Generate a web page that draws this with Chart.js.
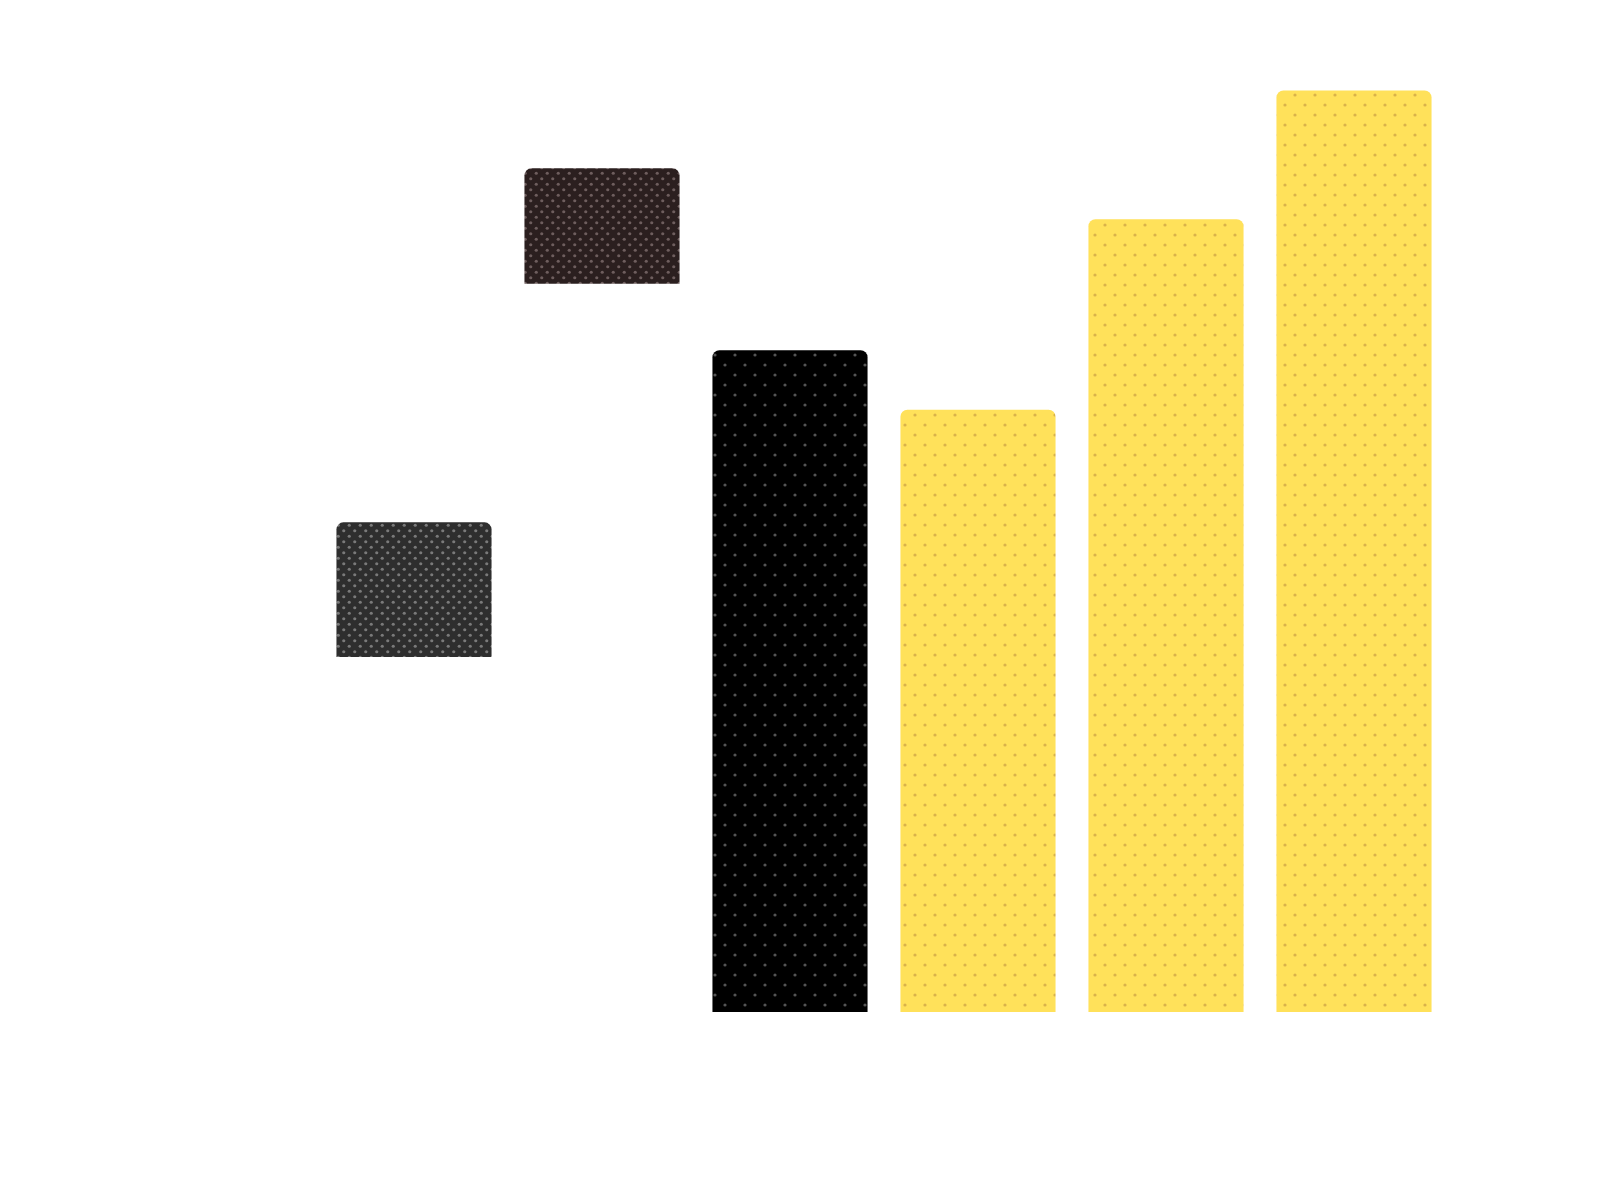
<!DOCTYPE html>
<html><head><meta charset="utf-8">
<script src="https://cdn.jsdelivr.net/npm/chart.js@4"></script>
<style>html,body{margin:0;padding:0;background:#fff}#w{width:1600px;height:1201px}</style>
</head><body><div id="w"><canvas id="c"></canvas></div>
<script>
const categories = ['A','B','C','D','E','F','G'];
const lows  = [null, 36.9, 75.7, 0, 0, 0, 0];
const highs = [null, 50.9, 87.7, 68.8, 62.6, 82.4, 95.8];
const baseColors = ['#000000','#2e2e2e','#2b1f1f','#000000','#FFE15A','#FFE15A','#FFE15A'];
const dotColors  = ['#666','#7a7a7a','#6e5e5e','#555','#d9b24a','#d9b24a','#d9b24a'];
const dotGap     = [20, 11, 11, 20, 20, 20, 20];

function pattern(bg, dot, gap){
  const c=document.createElement('canvas'); c.width=gap; c.height=gap;
  const x=c.getContext('2d'); x.fillStyle=bg; x.fillRect(0,0,gap,gap);
  x.fillStyle=dot; x.beginPath(); x.arc(gap/4,gap/4,1.6,0,Math.PI*2); x.fill();
  x.beginPath(); x.arc(gap*3/4,gap*3/4,1.6,0,Math.PI*2); x.fill();
  return x.createPattern(c,'repeat');
}
const fills = baseColors.map((b,i)=>pattern(b,dotColors[i],dotGap[i]));
const data = categories.map((c,i)=> lows[i]===null?null:[lows[i],highs[i]]);

new Chart(document.getElementById('c'),{
  type:'bar',
  data:{labels:categories,datasets:[{data:data,backgroundColor:fills,
    borderSkipped:'bottom',borderRadius:{topLeft:7,topRight:7,bottomLeft:0,bottomRight:0},
    borderWidth:0,categoryPercentage:1,barPercentage:0.825}]},
  options:{responsive:true,maintainAspectRatio:false,animation:false,
    layout:{padding:{left:132,right:152,top:50,bottom:189}},
    plugins:{legend:{display:false},tooltip:{enabled:false}},
    scales:{x:{display:false},y:{display:false,min:0,max:100}}}
});
</script></body></html>
